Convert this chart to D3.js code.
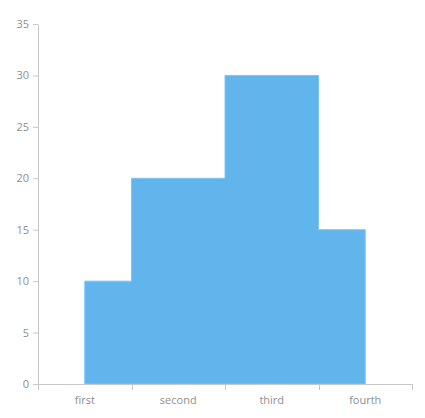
<!DOCTYPE html>
<html>
<head>
<meta charset="utf-8">
<script src="https://cdn.jsdelivr.net/npm/d3@7"></script>
<style>
  body { margin: 0; background: #fff; }
  .axis text { font-family: "Open Sans", "Noto Sans", sans-serif; font-size: 11px; fill: #8f8f8f; }
  .axis path, .axis line { stroke: #c8c8c8; }
</style>
</head>
<body>
<script>
let categories = ['first', 'second', 'third', 'fourth']
let values = [10, 20, 30, 15]
let yTicks = [0, 5, 10, 15, 20, 25, 30, 35]

let data = categories.map((c, i) => ({ category: c, value: values[i] }))

var margin = { top: 24, right: 13, bottom: 34, left: 38 },
    width = 425 - margin.left - margin.right,
    height = 418 - margin.top - margin.bottom

var svg = d3.select('body').append('svg')
    .attr('width', 425)
    .attr('height', 418)
    .append('g')
    .attr('transform', 'translate(' + margin.left + ',' + margin.top + ')')

var x = d3.scaleBand()
    .domain(categories)
    .range([0, width])

var y = d3.scaleLinear()
    .domain([0, 35])
    .range([height, 0])

var area = d3.area()
    .curve(d3.curveStep)
    .x(d => x(d.category) + x.bandwidth() / 2)
    .y0(y(0))
    .y1(d => y(d.value))

svg.append('path')
    .datum(data)
    .attr('d', area)
    .attr('fill', '#61b5ec')
    .attr('stroke', '#7cc6f5')
    .attr('stroke-width', 1)

// x axis: ticks on band edges, labels in band centres
var xAxis = svg.append('g')
    .attr('class', 'axis')
    .attr('transform', 'translate(0,' + height + ')')
xAxis.append('line')
    .attr('x1', 0).attr('x2', width)
    .attr('y1', 0.5).attr('y2', 0.5)
var edges = categories.map(c => x(c)).concat([width])
xAxis.selectAll('.tick')
    .data(edges)
    .enter()
    .append('line')
    .attr('x1', d => Math.round(d) + 0.5)
    .attr('x2', d => Math.round(d) + 0.5)
    .attr('y1', 0)
    .attr('y2', 6)
xAxis.selectAll('text')
    .data(categories)
    .enter()
    .append('text')
    .attr('x', d => x(d) + x.bandwidth() / 2)
    .attr('y', 20)
    .attr('text-anchor', 'middle')
    .text(d => d)

var yAxis = d3.axisLeft(y)
    .tickValues(yTicks)
    .tickSize(5)
    .tickSizeOuter(0)
    .tickPadding(4)

svg.append('g')
    .attr('class', 'axis')
    .call(yAxis)
</script>
</body>
</html>
